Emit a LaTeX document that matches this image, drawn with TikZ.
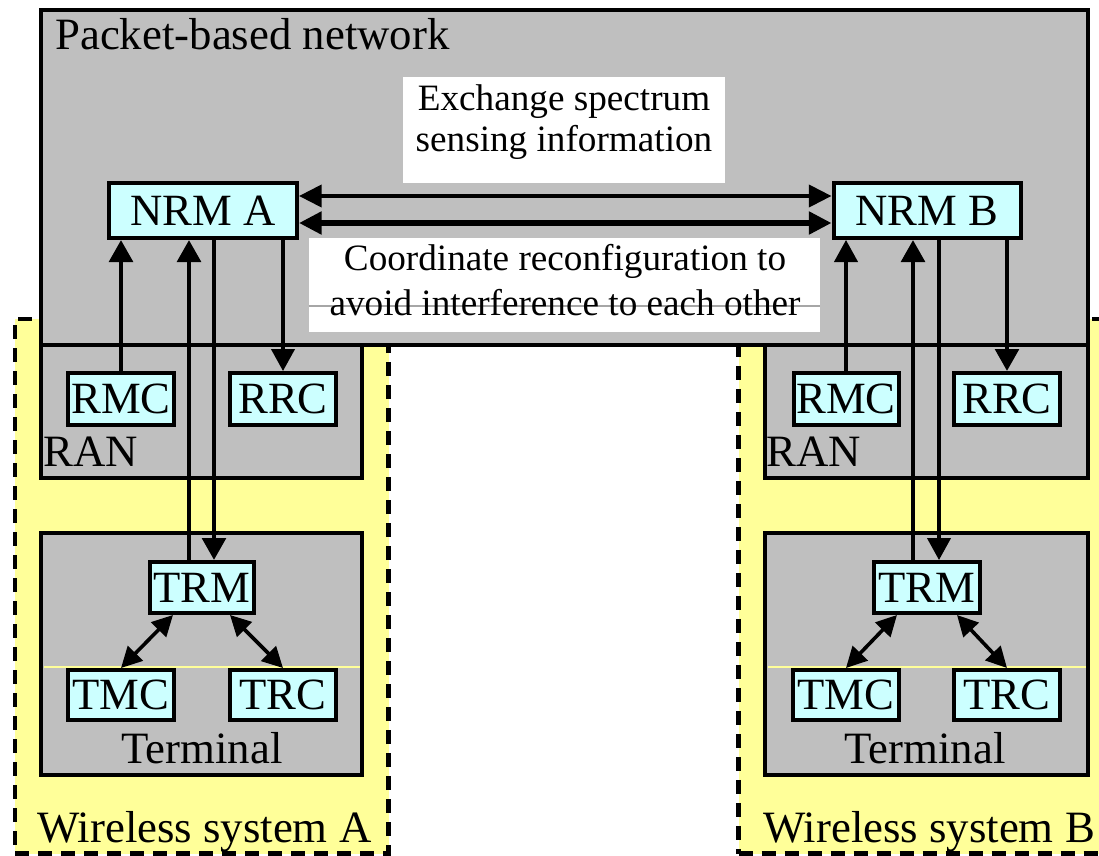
\documentclass[tikz,border=0pt]{standalone}
\usepackage{fontspec}
\setmainfont{Liberation Serif}
\usetikzlibrary{arrows.meta,fit,calc}

\newlength\pxu
\setlength\pxu{0.75pt}

\definecolor{netgray}{RGB}{191,191,191}
\definecolor{boxcyan}{RGB}{204,255,255}
\definecolor{sysyellow}{RGB}{255,255,153}

\tikzset{
  region/.style={draw=black, line width=3pt, fill=netgray, inner sep=0pt},
  sysbox/.style={draw=black, line width=3.4pt, fill=sysyellow, inner sep=0pt,
                 dash pattern=on 10.5pt off 6.75pt},
  notebox/.style={fill=white, inner sep=0pt},
  unit/.style={draw=black, line width=3pt, fill=boxcyan, inner sep=0pt,
               font=\fontsize{33.5}{40}\selectfont},
  lbl/.style={inner sep=0pt, font=\fontsize{33.6}{40}\selectfont},
  ann/.style={inner sep=0pt, font=\fontsize{27.9}{34}\selectfont},
  tip/.style={-{Triangle[length=16.5pt,width=17.5pt]}},
  tipboth/.style={{Triangle[length=17pt,width=16.5pt]}-{Triangle[length=17pt,width=16.5pt]}},
  tipsmall/.style={{Triangle[length=15.5pt,width=15.5pt]}-{Triangle[length=15.5pt,width=15.5pt]}},
  wthick/.style={line width=3.5pt},
  wmid/.style={line width=3pt},
  wthin/.style={line width=2.3pt},
}

\begin{document}
\begin{tikzpicture}[x=0.75pt, y=-0.75pt]
  \useasboundingbox (0,0) rectangle (1099,856);
  \fill[white] (0,0) rectangle (1099,856);
  \clip (0,0) rectangle (1099,856);

  % wireless systems (behind everything else)
  \node[sysbox, fit={(15,319) (388.7,853.5)}] (sysA) {};
  \node[sysbox, fit={(738.7,319) (1115,853.5)}] (sysB) {};

  % packet-based core network
  \node[region, fit={(40.5,10) (1088,344.5)}] (pkt) {};

  % radio access networks and terminals
  \node[region, fit={(40.5,344.5) (362,478)}] (ranA) {};
  \node[region, fit={(40.5,533) (362,774.5)}] (termA) {};
  \node[region, fit={(765,344.5) (1088,478)}] (ranB) {};
  \node[region, fit={(765,533) (1088,774.5)}] (termB) {};

  % white panels behind the message texts
  \node[notebox, fit={(403,77) (725,183)}] (noteX) {};
  \node[notebox, fit={(309,238) (820,332)}] (noteC) {};

  % hairlines
  \draw[line width=0.8pt, black!35] (noteC.west |- 0,306) -- (noteC.east |- 0,306);
  \draw[line width=0.8pt, sysyellow] (43.5,667) -- (359.5,667);
  \draw[line width=0.8pt, sysyellow] (767.5,667) -- (1085.5,667);

  % functional units
  \node[unit, minimum width=188\pxu, minimum height=55\pxu] (nrmA) at (203,210.5) {NRM A};
  \node[unit, minimum width=187\pxu, minimum height=55\pxu] (nrmB) at (927,210.5) {NRM B};

  \node[unit, minimum width=106\pxu, minimum height=52\pxu] (rmcA) at (121,399) {RMC};
  \node[unit, minimum width=106\pxu, minimum height=52\pxu] (rrcA) at (283,399) {RRC};
  \node[unit, minimum width=104\pxu, minimum height=51\pxu] (trmA) at (202,587.5) {TRM};
  \node[unit, minimum width=106\pxu, minimum height=50\pxu] (tmcA) at (121,695) {TMC};
  \node[unit, minimum width=106\pxu, minimum height=50\pxu] (trcA) at (283,695) {TRC};

  \node[unit, minimum width=105\pxu, minimum height=52\pxu] (rmcB) at (846,399) {RMC};
  \node[unit, minimum width=106\pxu, minimum height=52\pxu] (rrcB) at (1007,399) {RRC};
  \node[unit, minimum width=106\pxu, minimum height=51\pxu] (trmB) at (927,587.5) {TRM};
  \node[unit, minimum width=106\pxu, minimum height=50\pxu] (tmcB) at (846,695) {TMC};
  \node[unit, minimum width=106\pxu, minimum height=50\pxu] (trcB) at (1007,695) {TRC};

  % exchanges between the two NRMs
  \draw[tipboth, wmid] ([yshift=14.5\pxu]nrmA.east) -- ([yshift=14.5\pxu]nrmB.west);
  \draw[tipboth, line width=4pt] ([yshift=-12.5\pxu]nrmA.east) -- ([yshift=-12.5\pxu]nrmB.west);

  % system A signalling
  \coordinate (upA) at ([xshift=-13\pxu]trmA.north);
  \coordinate (dnA) at ([xshift=12\pxu]trmA.north);
  \draw[tip, wthick] (rmcA.north) -- (rmcA.north |- nrmA.south);
  \draw[tip, wthick] (upA) -- (upA |- nrmA.south);
  \draw[tip, wthick] (dnA |- nrmA.south) -- (dnA);
  \draw[tip, wthin] (rrcA.north |- nrmA.south) -- (rrcA.north);
  \draw[tipsmall, line width=2.7pt] ([xshift=-29\pxu]trmA.south) -- (tmcA.north);
  \draw[tipsmall, line width=2.7pt] ([xshift=28\pxu]trmA.south) -- (trcA.north);

  % system B signalling
  \coordinate (upB) at ([xshift=-14\pxu]trmB.north);
  \coordinate (dnB) at ([xshift=12\pxu]trmB.north);
  \draw[tip, wthin] (rmcB.north) -- (rmcB.north |- nrmB.south);
  \draw[tip, wthick] (upB) -- (upB |- nrmB.south);
  \draw[tip, wthin] (dnB |- nrmB.south) -- (dnB);
  \draw[tip, wthick] (rrcB.north |- nrmB.south) -- (rrcB.north);
  \draw[tipsmall, line width=2.7pt] ([xshift=-30\pxu]trmB.south) -- (tmcB.north);
  \draw[tipsmall, line width=2.7pt] ([xshift=30\pxu]trmB.south) -- (trcB.north);

  % labels
  \node[lbl, anchor=base west] (pktLbl) at (55,49.5) {Packet-based network};
  \node[ann, anchor=base] (noteX1) at (564,110.5) {Exchange spectrum};
  \node[ann, anchor=base] (noteX2) at (564,151.5) {sensing information};
  \node[ann, anchor=base] (noteC1) at (565,270) {Coordinate reconfiguration to};
  \node[ann, anchor=base] (noteC2) at (565,315) {avoid interference to each other};

  \node[lbl, anchor=base west] (ranALbl) at (43,466) {RAN};
  \node[lbl, anchor=base west] (ranBLbl) at (766,466) {RAN};
  \node[lbl, anchor=base] (termALbl) at (202,763) {Terminal};
  \node[lbl, anchor=base] (termBLbl) at (925,763) {Terminal};
  \node[lbl, anchor=base west] (sysALbl) at (37,842) {Wireless system A};
  \node[lbl, anchor=base west] (sysBLbl) at (763,842) {Wireless system B};
\end{tikzpicture}
\end{document}
